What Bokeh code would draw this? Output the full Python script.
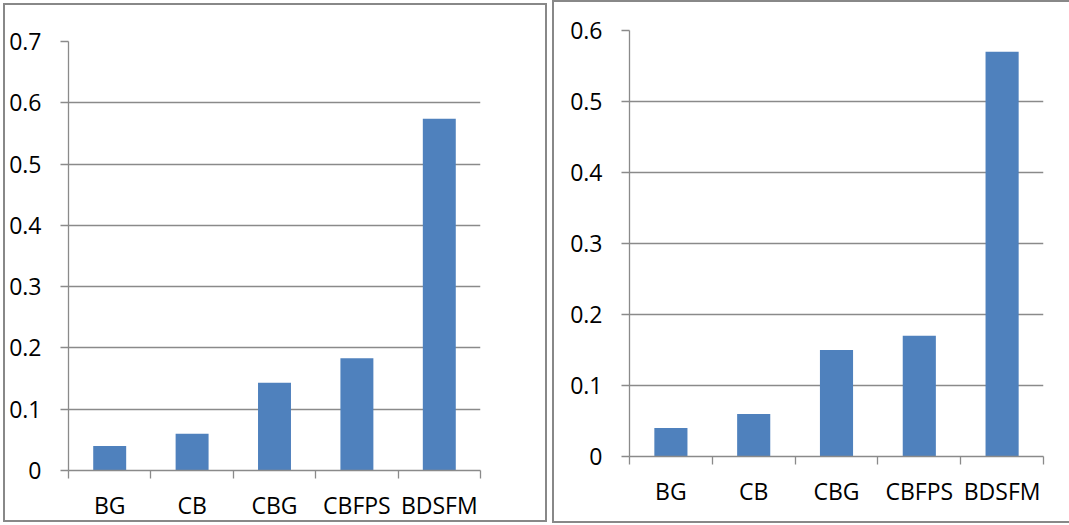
from bokeh.plotting import figure
from bokeh.models import Range1d, FixedTicker, NumeralTickFormatter, ColumnDataSource
from bokeh.embed import file_html
from bokeh.resources import INLINE

# Methods compared in both panels
categories = ["BG", "CB", "CBG", "CBFPS", "BDSFM"]

# Left panel values and its y ticks
left_values = [0.04, 0.06, 0.143, 0.183, 0.574]
left_y_ticks = [0, 0.1, 0.2, 0.3, 0.4, 0.5, 0.6, 0.7]

# Right panel values and its y ticks
right_values = [0.04, 0.06, 0.15, 0.17, 0.57]
right_y_ticks = [0, 0.1, 0.2, 0.3, 0.4, 0.5, 0.6]

BAR = "#4F81BD"
GRID = "#8a8a8a"
FONT = "Open Sans"
FONT_SIZE = "23px"


def make_panel(values, y_ticks, width, height, borders, css):
    n = len(categories)
    centers = [i + 0.5 for i in range(n)]
    src = ColumnDataSource(dict(x=centers, v=values, cat=categories))
    left, right, top, bottom = borders
    p = figure(
        width=width, height=height,
        output_backend="svg", toolbar_location=None,
        x_range=Range1d(0, n), y_range=Range1d(0, y_ticks[-1]),
        min_border_left=left, min_border_right=right,
        min_border_top=top, min_border_bottom=bottom,
        styles=css,
    )
    p.border_fill_color = None
    p.background_fill_color = "white"
    p.outline_line_color = None

    p.vbar(x="x", top="v", width=0.4, source=src, fill_color=BAR, line_color=None)

    p.xgrid.visible = False
    p.ygrid.ticker = FixedTicker(ticks=y_ticks)
    p.ygrid.grid_line_color = GRID
    p.ygrid.grid_line_width = 1.3

    # y axis
    ya = p.yaxis[0]
    ya.axis_label = None
    ya.ticker = FixedTicker(ticks=y_ticks)
    ya.formatter = NumeralTickFormatter(format="0.[0]")
    ya.axis_line_color = GRID
    ya.axis_line_width = 1.3
    ya.major_tick_line_color = GRID
    ya.major_tick_line_width = 1.3
    ya.major_tick_in = 0
    ya.major_tick_out = 8
    ya.minor_tick_line_color = None
    ya.major_label_standoff = 19
    ya.major_label_text_font = FONT
    ya.major_label_text_font_size = FONT_SIZE
    ya.major_label_text_color = "black"

    # x axis: labels at category centres, tick marks at category boundaries
    xa = p.xaxis[0]
    xa.axis_label = None
    xa.ticker = FixedTicker(ticks=centers, minor_ticks=list(range(n + 1)))
    xa.major_label_overrides = {c: name for c, name in zip(centers, categories)}
    xa.axis_line_color = GRID
    xa.axis_line_width = 1.3
    xa.major_tick_line_color = None
    xa.major_tick_in = 0
    xa.major_tick_out = 8
    xa.minor_tick_line_color = GRID
    xa.minor_tick_line_width = 1.3
    xa.minor_tick_in = 0
    xa.minor_tick_out = 8
    xa.major_label_standoff = 10
    xa.major_label_text_font = FONT
    xa.major_label_text_font_size = FONT_SIZE
    xa.major_label_text_color = "black"
    return p


p1 = make_panel(
    left_values, left_y_ticks, 550, 525, (68, 70, 41, 55),
    {"position": "absolute", "left": "0px", "top": "0px",
     "box-shadow": "inset 0 0 0 3px #ffffff, inset 0 0 0 5px #888888"},
)
p2 = make_panel(
    right_values, right_y_ticks, 517, 523, (77, 26, 30, 67),
    {"position": "absolute", "left": "552px", "top": "0px",
     "box-shadow": "inset 2px 0 0 0 #888888, inset 0 2px 0 0 #888888, inset 0 -2px 0 0 #888888"},
)

open("out.html", "w").write(file_html([p1, p2], INLINE))
